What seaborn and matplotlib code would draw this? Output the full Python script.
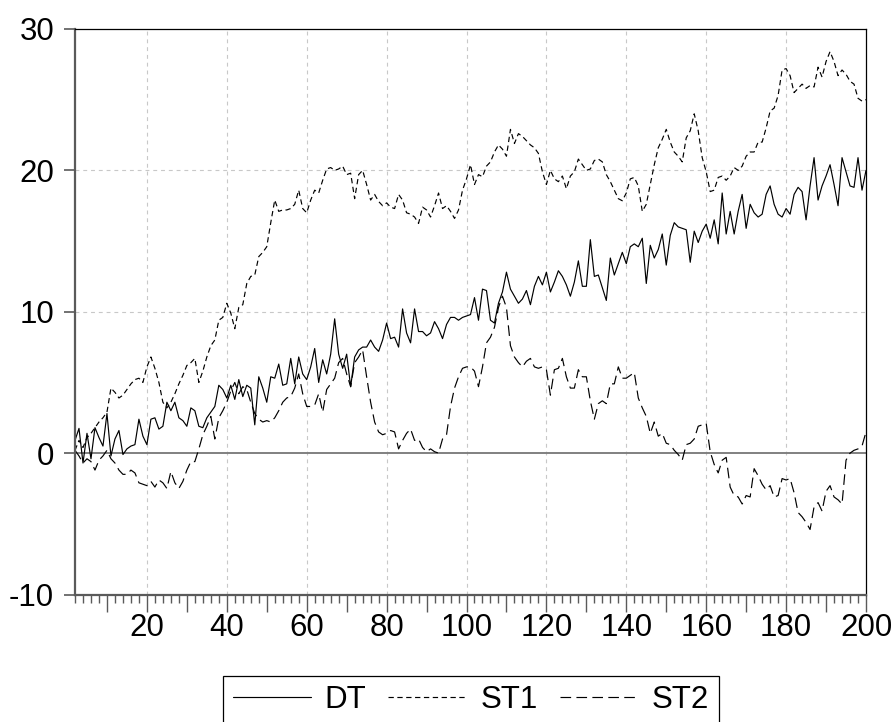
import numpy as np
import pandas as pd
import matplotlib
matplotlib.use("Agg")
import matplotlib.pyplot as plt
from matplotlib.lines import Line2D
from matplotlib.ticker import MultipleLocator, FixedLocator, FuncFormatter
import seaborn as sns

# Observations 2..200
obs = list(range(2, 201))

# Deterministic trend series
DT = [
    0.9, 1.75, -0.7, 1.4, -0.4, 1.8, 1.1, 0.5, 2.8, -0.2,
    1.0, 1.6, -0.1, 0.3, 0.5, 0.6, 2.4, 1.2, 0.6, 2.4,
    2.5, 1.7, 1.9, 3.6, 3.0, 3.6, 2.5, 2.3, 1.9, 3.2,
    3.0, 1.9, 1.8, 2.5, 2.9, 3.3, 4.8, 4.5, 3.9, 4.8,
    3.8, 5.2, 4.0, 4.8, 4.6, 2.0, 5.4, 4.6, 3.6, 5.4,
    5.3, 6.3, 4.8, 4.9, 6.7, 4.9, 6.8, 5.6, 5.2, 6.1,
    7.4, 5.0, 6.6, 5.6, 7.0, 9.5, 7.0, 6.0, 7.0, 4.7,
    6.8, 7.3, 7.5, 7.5, 8.0, 7.5, 7.2, 8.0, 9.2, 8.1,
    8.2, 7.5, 10.2, 8.5, 7.8, 10.2, 8.6, 8.6, 8.3, 8.5,
    9.3, 8.8, 8.1, 9.1, 9.6, 9.6, 9.4, 9.6, 9.7, 9.8,
    11.0, 9.4, 11.6, 11.5, 9.4, 9.2, 10.6, 11.4, 12.8, 11.6,
    11.1, 10.6, 10.9, 11.5, 10.5, 11.8, 12.5, 11.9, 12.8, 11.4,
    12.1, 12.9, 12.5, 11.9, 11.1, 12.1, 13.6, 11.8, 11.8, 15.1,
    12.5, 12.6, 11.7, 10.8, 13.8, 12.6, 13.4, 14.2, 13.4, 14.6,
    14.8, 14.6, 15.2, 12.0, 14.7, 13.8, 14.4, 15.5, 13.3, 15.4,
    16.3, 16.0, 15.9, 15.8, 13.5, 15.7, 14.9, 15.7, 16.2, 15.2,
    16.5, 14.8, 18.4, 15.5, 17.1, 15.5, 17.1, 18.3, 15.9, 17.6,
    17.0, 16.7, 16.9, 18.3, 18.9, 17.6, 16.9, 16.7, 17.3, 16.9,
    18.3, 18.8, 18.5, 16.5, 18.9, 20.9, 17.9, 18.9, 19.6, 20.4,
    19.0, 17.5, 20.9, 19.9, 18.9, 18.8, 20.9, 18.6, 20.0,
]

# Stochastic trend with drift
ST1 = [
    0.2, 0.9, 0.4, 1.1, 1.4, 1.8, 2.2, 2.5, 2.9, 4.6,
    4.3, 3.9, 4.1, 4.5, 4.9, 5.2, 5.3, 5.0, 6.1, 6.8,
    6.0, 5.0, 3.6, 3.2, 3.6, 4.2, 4.9, 5.5, 6.2, 6.4,
    6.7, 5.0, 5.8, 6.8, 7.6, 8.0, 9.4, 9.6, 10.6, 9.9,
    8.8, 10.3, 10.5, 12.0, 12.5, 12.6, 13.9, 14.2, 14.6, 16.3,
    17.9, 17.1, 17.2, 17.2, 17.3, 17.6, 18.6, 17.3, 17.0, 17.9,
    18.6, 18.4, 19.3, 20.1, 20.2, 20.0, 20.1, 20.3, 19.7, 19.8,
    18.0, 19.7, 20.0, 19.0, 17.9, 18.3, 17.8, 17.5, 17.7, 17.4,
    17.3, 18.3, 17.9, 17.0, 16.9, 16.7, 16.25, 17.4, 17.2, 16.7,
    17.5, 18.4, 17.3, 17.5, 17.1, 16.6, 17.2, 18.6, 19.4, 20.4,
    19.0, 19.7, 19.55, 20.3, 20.6, 21.3, 21.8, 21.5, 21.0, 22.9,
    21.9, 22.6, 22.4, 22.1, 21.8, 21.6, 21.2, 19.9, 19.0, 20.0,
    19.4, 19.2, 19.6, 18.7, 19.6, 19.9, 20.8, 20.4, 20.0, 20.1,
    20.7, 20.8, 20.6, 19.7, 19.2, 18.6, 18.0, 17.85, 18.4, 19.4,
    19.5, 18.9, 17.1, 17.6, 19.0, 20.4, 21.6, 22.2, 22.9, 22.0,
    21.3, 21.0, 20.6, 22.3, 22.8, 24.0, 22.8, 20.9, 19.9, 18.5,
    18.6, 19.5, 19.6, 19.3, 19.6, 20.2, 20.0, 20.3, 21.0, 21.3,
    21.3, 22.0, 22.0, 23.0, 24.2, 24.4, 25.3, 27.1, 27.2, 26.7,
    25.5, 25.8, 26.1, 25.8, 26.0, 25.9, 27.3, 26.6, 27.7, 28.4,
    27.7, 26.7, 27.1, 26.8, 26.3, 26.1, 25.1, 24.9, 25.0,
]

# Stochastic trend without drift
ST2 = [
    0.2, -0.2, -0.7, -0.4, -0.6, -1.2, -0.5, -0.2, 0.2, -0.4,
    -0.7, -1.2, -1.5, -1.5, -1.2, -1.4, -2.1, -2.2, -2.3, -2.0,
    -2.4, -1.9, -2.1, -2.5, -1.3, -2.1, -2.5, -2.0, -1.2, -0.6,
    -0.6, 0.3, 1.3, 1.9, 2.6, 1.0, 2.5, 3.0, 3.6, 4.4,
    5.0, 4.2, 4.7, 4.5, 3.6, 2.8, 2.4, 2.2, 2.3, 2.2,
    2.5, 3.0, 3.6, 3.9, 4.0, 4.6, 5.6, 4.2, 3.3, 3.3,
    3.4, 4.2, 2.9, 4.5, 4.9, 5.3, 6.4, 6.7, 5.6, 4.7,
    6.4, 6.8, 7.3, 5.4, 3.6, 2.2, 1.5, 1.3, 1.4, 1.6,
    1.5, 0.3, 0.9, 1.4, 1.7, 0.9, 1.0, 0.4, 0.1, 0.3,
    0.1, 0.0, 1.0, 1.3, 3.3, 4.6, 5.4, 6.0, 6.1, 6.1,
    5.8, 4.7, 6.1, 7.8, 8.2, 8.9, 10.3, 11.1, 10.3, 7.6,
    6.8, 6.4, 6.1, 6.5, 6.7, 6.1, 6.0, 6.1, 5.9, 4.1,
    5.9, 6.0, 6.7, 5.4, 4.6, 4.6, 5.9, 5.4, 5.4, 3.7,
    2.4, 3.5, 3.7, 3.5, 4.9, 4.9, 6.1, 5.3, 5.3, 5.5,
    5.7, 3.9, 3.2, 2.6, 1.4, 2.2, 1.2, 1.4, 0.7, 0.6,
    0.2, -0.1, -0.5, 0.6, 0.7, 1.0, 1.9, 2.0, 2.1, 0.1,
    -0.8, -1.4, -0.5, -0.3, -2.4, -3.0, -3.1, -3.6, -3.0, -3.1,
    -1.1, -1.6, -2.2, -2.6, -2.3, -3.1, -3.0, -1.8, -1.9, -1.8,
    -2.8, -4.2, -4.5, -4.9, -5.4, -3.8, -3.5, -4.1, -2.7, -2.3,
    -3.1, -3.3, -3.6, -0.5, 0.0, 0.2, 0.3, 0.5, 1.5,
]

series_names = ["DT", "ST1", "ST2"]
y_ticks = [-10, 0, 10, 20, 30]

df = pd.DataFrame({"obs": obs, "DT": DT, "ST1": ST1, "ST2": ST2})
long_df = df.melt(id_vars="obs", var_name="series", value_name="value")

sns.set_style("white")
plt.rcParams["font.family"] = ["Liberation Sans", "DejaVu Sans"]
plt.rcParams["axes.unicode_minus"] = False
plt.rcParams["text.color"] = "black"
plt.rcParams["xtick.labelcolor"] = "black"
plt.rcParams["ytick.labelcolor"] = "black"

FS = 22.5
LW = 0.85
dash_map = {"DT": "", "ST1": (4.5, 3), "ST2": (9, 4.5)}
axis_grey = "#5a5a5a"

fig = plt.figure(figsize=(8.92, 7.22), dpi=100)
ax = fig.add_axes([75 / 892, 1 - 594.5 / 722, (866 - 75) / 892, (594.5 - 29) / 722])

# light dashed grid at the labelled positions
for gx in range(20, 200, 20):
    ax.axvline(gx, color="#c8c8c8", lw=0.8, ls=(0, (3.5, 3.5)), zorder=0)
for gy in (10, 20):
    ax.axhline(gy, color="#c8c8c8", lw=0.8, ls=(0, (3.5, 3.5)), zorder=0)
ax.axhline(0, color="#808080", lw=1.4, zorder=1)

sns.lineplot(
    data=long_df, x="obs", y="value", hue="series", style="series",
    hue_order=series_names, style_order=series_names,
    palette=["black"] * 3, dashes=dash_map, linewidth=LW,
    estimator=None, sort=False, legend=False, ax=ax, zorder=2,
)

ax.set_xlim(2, 200)
ax.set_ylim(-10, 30)
ax.set_xlabel("")
ax.set_ylabel("")

# x axis: minor ticks every 2, long ticks every 10, labels every 20
ax.xaxis.set_major_locator(MultipleLocator(10))
ax.xaxis.set_minor_locator(FixedLocator([v for v in range(2, 201, 2) if v % 10]))
ax.xaxis.set_major_formatter(FuncFormatter(lambda v, p: f"{int(v)}" if int(v) % 20 == 0 else ""))
ax.set_yticks(y_ticks)
ax.set_yticklabels([str(v) for v in y_ticks])

ax.tick_params(axis="x", which="major", direction="out", length=12, width=1.0,
               color=axis_grey, labelsize=FS, labelcolor="black", pad=1, bottom=True)
ax.tick_params(axis="x", which="minor", direction="out", length=6, width=1.0,
               color=axis_grey, bottom=True)
ax.tick_params(axis="y", which="major", direction="out", length=8, width=1.2,
               color=axis_grey, labelsize=FS, labelcolor="black", pad=7, left=True)

for side in ("left", "bottom"):
    ax.spines[side].set_color(axis_grey)
    ax.spines[side].set_linewidth(1.6)
for side in ("top", "right"):
    ax.spines[side].set_color("black")
    ax.spines[side].set_linewidth(0.9)
    ax.spines[side].set_visible(True)

handles = [
    Line2D([], [], color="black", lw=LW, ls="-"),
    Line2D([], [], color="black", lw=LW, dashes=dash_map["ST1"]),
    Line2D([], [], color="black", lw=LW, dashes=dash_map["ST2"]),
]
leg = fig.legend(
    handles, series_names, loc="upper center", ncol=3,
    bbox_to_anchor=(0.528, 1 - 676 / 722), bbox_transform=fig.transFigure,
    frameon=True, fancybox=False, edgecolor="black", framealpha=1,
    fontsize=FS, handlelength=2.5, handletextpad=0.45, columnspacing=0.7,
    borderpad=0.3, borderaxespad=0,
)
leg.get_frame().set_linewidth(0.9)
for txt in leg.get_texts():
    txt.set_color("black")

fig.savefig("out.png", dpi=100)
